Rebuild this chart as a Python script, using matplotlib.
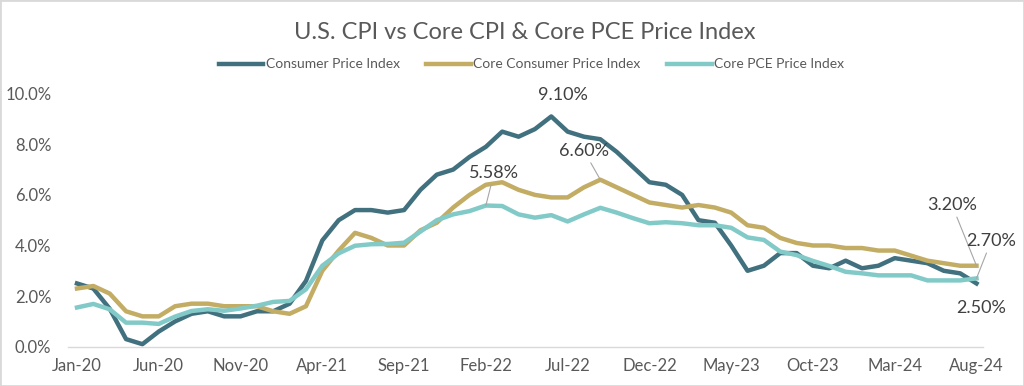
import matplotlib
matplotlib.use("Agg")
import matplotlib.pyplot as plt
from matplotlib.patches import Rectangle
import pandas as pd

months = pd.date_range("2020-01-01", periods=56, freq="MS").strftime("%b-%y").tolist()

cpi = [2.5, 2.3, 1.5, 0.3, 0.1, 0.6, 1.0, 1.3, 1.4, 1.2, 1.2, 1.4,
       1.4, 1.7, 2.6, 4.2, 5.0, 5.4, 5.4, 5.3, 5.4, 6.2, 6.8, 7.0,
       7.5, 7.9, 8.5, 8.3, 8.6, 9.1, 8.5, 8.3, 8.2, 7.7, 7.1, 6.5,
       6.4, 6.0, 5.0, 4.9, 4.0, 3.0, 3.2, 3.7, 3.7, 3.2, 3.1, 3.4,
       3.1, 3.2, 3.5, 3.4, 3.3, 3.0, 2.9, 2.5]

core_cpi = [2.3, 2.4, 2.1, 1.4, 1.2, 1.2, 1.6, 1.7, 1.7, 1.6, 1.6, 1.6,
            1.4, 1.3, 1.6, 3.0, 3.8, 4.5, 4.3, 4.0, 4.0, 4.6, 4.9, 5.5,
            6.0, 6.4, 6.5, 6.2, 6.0, 5.9, 5.9, 6.3, 6.6, 6.3, 6.0, 5.7,
            5.6, 5.5, 5.6, 5.5, 5.3, 4.8, 4.7, 4.3, 4.1, 4.0, 4.0, 3.9,
            3.9, 3.8, 3.8, 3.6, 3.4, 3.3, 3.2, 3.2]

core_pce = [1.55, 1.69, 1.48, 0.95, 0.95, 0.9, 1.19, 1.41, 1.48, 1.42, 1.51, 1.62,
            1.77, 1.81, 2.27, 3.2, 3.69, 3.99, 4.05, 4.06, 4.11, 4.55, 5.0, 5.23,
            5.36, 5.58, 5.56, 5.23, 5.1, 5.2, 4.95, 5.23, 5.49, 5.3, 5.08, 4.88,
            4.92, 4.88, 4.8, 4.8, 4.7, 4.32, 4.22, 3.76, 3.62, 3.39, 3.19, 2.96,
            2.9, 2.82, 2.82, 2.82, 2.62, 2.62, 2.62, 2.7]

tick_step = 5

c_cpi = "#41707F"
c_core = "#C3AC64"
c_pce = "#82CAC8"
txt = "#595959"

plt.rcParams["font.family"] = ["Lato", "DejaVu Sans"]

fig = plt.figure(figsize=(10.24, 3.86), dpi=100)
ax = fig.add_axes([0.0664, 0.1018, 0.8936, 0.6555])

x = list(range(len(months)))
ax.plot(x, cpi, color=c_cpi, lw=3.2, label="Consumer Price Index", solid_joinstyle="round")
ax.plot(x, core_cpi, color=c_core, lw=3.2, label="Core Consumer Price Index", solid_joinstyle="round")
ax.plot(x, core_pce, color=c_pce, lw=3.2, label="Core PCE Price Index", solid_joinstyle="round")

ax.set_xlim(-0.55, len(months) - 1 + 0.4)
ax.set_ylim(0, 10)
ax.set_yticks(range(0, 11, 2))
ax.set_yticklabels([f"{v:.1f}%" for v in range(0, 11, 2)])
ax.set_xticks(x[::tick_step])
ax.set_xticklabels(months[::tick_step])
ax.tick_params(length=0, labelsize=12, labelcolor=txt, pad=8)
ax.tick_params(axis="y", pad=12)
for s in ["top", "right", "left"]:
    ax.spines[s].set_visible(False)
ax.spines["bottom"].set_color("#D9D9D9")
ax.spines["bottom"].set_linewidth(1)

lead = dict(arrowstyle="-", color="#A6A6A6", lw=0.8, shrinkA=1, shrinkB=0)
ann = dict(fontsize=13, color="#404040", ha="center", va="center", annotation_clip=False)
ax.annotate("9.10%", xy=(29, 9.1), xytext=(29.7, 9.94), **ann)
ax.annotate("6.60%", xy=(32, 6.6), xytext=(31.0, 7.74), arrowprops=lead, **ann)
ax.annotate("5.58%", xy=(25, 5.58), xytext=(25.5, 6.86), arrowprops=lead, **ann)
ax.annotate("3.20%", xy=(55, 3.2), xytext=(53.5, 5.6), arrowprops=lead, **ann)
ax.annotate("2.70%", xy=(55, 2.7), xytext=(55.9, 4.18), arrowprops=lead, **ann)
ax.annotate("2.50%", xy=(55, 2.5), xytext=(55.3, 1.53), **ann)

fig.text(0.512, 0.917, "U.S. CPI vs Core CPI & Core PCE Price Index",
         ha="center", va="center", fontsize=17, color=txt)
fig.legend(loc="center", bbox_to_anchor=(0.519, 0.834), ncol=3, frameon=False,
           fontsize=10, labelcolor=txt, handlelength=3.2, handletextpad=0.2,
           columnspacing=1.9, handleheight=0.5)

fig.patches.append(Rectangle((0, 0), 1, 1, transform=fig.transFigure, fill=False,
                             edgecolor="#D9D9D9", lw=2))

fig.savefig("out.png", dpi=100)
